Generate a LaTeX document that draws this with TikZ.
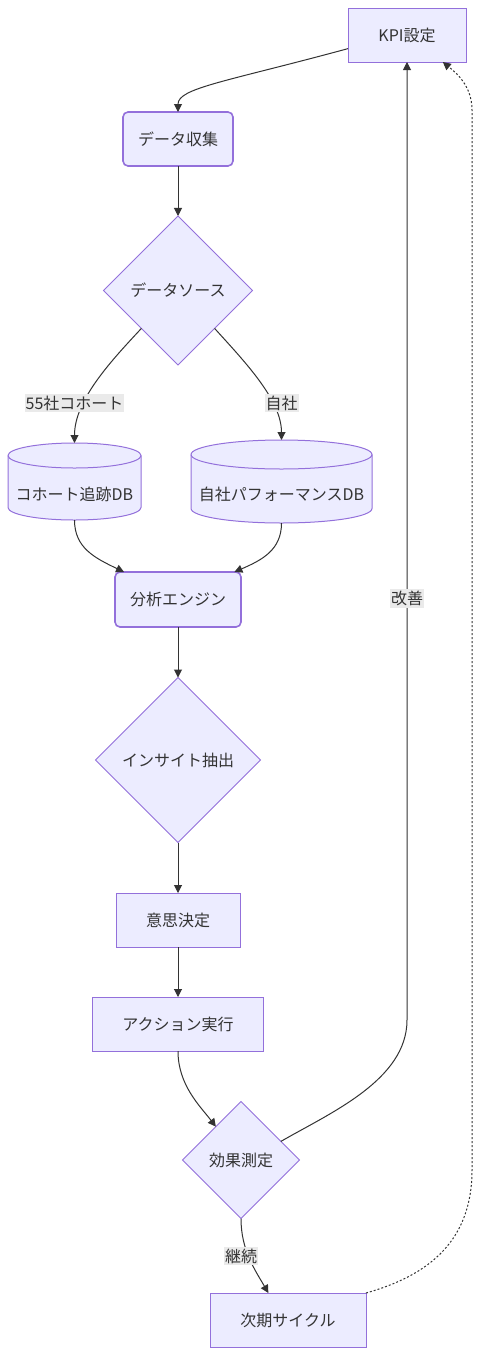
\documentclass[tikz,border=0pt]{standalone}
\usepackage{fontspec}
\setmainfont{Noto Sans CJK JP}
\usetikzlibrary{shapes.geometric,arrows.meta}

\definecolor{nodefill}{HTML}{ECECFF}
\definecolor{nodeline}{HTML}{9370DB}
\definecolor{edgeline}{HTML}{333333}
\definecolor{labelbg}{HTML}{EAEAEA}

\tikzset{
  base/.style={fill=nodefill, draw=nodeline, line width=1pt, text=edgeline, outer sep=0pt},
  plainbox/.style={base, rectangle, minimum height=54pt, inner sep=0pt},
  roundbox/.style={base, rectangle, rounded corners=5pt, line width=1.6pt, minimum height=54pt, inner sep=0pt},
  decision/.style={base, diamond, aspect=1, inner sep=0pt},
  dbtext/.style={rectangle, text=edgeline, inner sep=0pt, outer sep=0pt, text height=37pt, text depth=0pt},
  drum/.style={fill=nodefill, draw=nodeline, line width=1pt},
  flow/.style={draw=edgeline, line width=1pt, -{Triangle[length=8pt,width=8pt]}},
  backflow/.style={flow, dash pattern=on 2pt off 2pt},
  elabel/.style={fill=labelbg, text=edgeline, inner xsep=1pt, inner ysep=2pt}
}

% cylinder outline: cx, top, bottom, rx, ry
\newcommand{\dbdrum}[5]{%
  \filldraw[drum] ({#1-#4},{-#2-#5}) -- ({#1-#4},{-#3+#5})
    arc[start angle=180, end angle=360, x radius=#4, y radius=#5]
    -- ({#1+#4},{-#2-#5})
    arc[start angle=0, end angle=180, x radius=#4, y radius=#5] -- cycle;
  \draw[drum, fill=none] ({#1-#4},{-#2-#5})
    arc[start angle=180, end angle=360, x radius=#4, y radius=#5];
}

\begin{document}
\begin{tikzpicture}[x=1pt, y=1pt, font=\fontsize{16pt}{19pt}\selectfont]
\useasboundingbox (0,0) rectangle (480,-1355);

% drums behind the db nodes
\dbdrum{74.5}{443}{520}{66.5}{12.5}
\dbdrum{281.5}{440}{523}{90.5}{14.5}

% nodes
\node[plainbox, minimum width=118pt] (kpi) at (407,-35) {KPI設定};
\node[roundbox, minimum width=110pt] (collect) at (178,-139) {データ収集};
\node[decision, minimum width=149pt, minimum height=149pt] (source) at (178,-290.5) {データソース};
\node[dbtext, minimum width=133pt, minimum height=77pt] (cohortdb) at (74.5,-481.5) {コホート追跡DB};
\node[dbtext, minimum width=181pt, minimum height=83pt] (owndb) at (281.5,-481.5) {自社パフォーマンスDB};
\node[roundbox, minimum width=126pt, minimum height=55pt] (engine) at (178,-599.5) {分析エンジン};
\node[decision, minimum width=165pt, minimum height=165pt] (insight) at (178,-760) {インサイト抽出};
\node[plainbox, minimum width=124pt] (decide) at (178,-920) {意思決定};
\node[plainbox, minimum width=171pt] (action) at (178,-1024) {アクション実行};
\node[decision, minimum width=117pt, minimum height=117pt] (effect) at (241,-1160) {効果測定};
\node[plainbox, minimum width=156pt] (next) at (288,-1320) {次期サイクル};

% arrows
\draw[flow] (kpi.193) .. controls (225,-82) and (178,-88) .. (collect.north);
\draw[flow] (collect) -- (source);
\draw[flow] (source.226) .. controls (111,-361) and (74.5,-400) .. (cohortdb.north) node[elabel] at (74.5,-403) {55社コホート};
\draw[flow] (source.314) .. controls (245,-362) and (281.5,-400) .. (owndb.north) node[elabel] at (281.5,-403) {自社};
\draw[flow] (cohortdb.south) .. controls (74.5,-548) and (95,-558) .. (engine.153);
\draw[flow] (owndb.south) .. controls (281.5,-550) and (262,-560) .. (engine.26);
\draw[flow] (engine) -- (insight);
\draw[flow] (insight) -- (decide);
\draw[flow] (decide) -- (action);
\draw[flow] (action.south) .. controls (178,-1085) and (200,-1106) .. (effect.127);
\draw[flow] (effect.25) .. controls (330,-1113) and (407,-1080) .. (407,-1020) -- node[elabel, pos=0.44] {改善} (kpi.south);
\draw[flow] (effect.south) .. controls (241,-1250) and (255,-1270) .. (next.126) node[elabel] at (241,-1256) {継続};
\draw[backflow] (next.north east) .. controls (430,-1275) and (472,-1240) .. (472,-1170) -- (472,-110) .. controls (472,-85) and (455,-72) .. (kpi.-37);

\end{tikzpicture}
\end{document}
